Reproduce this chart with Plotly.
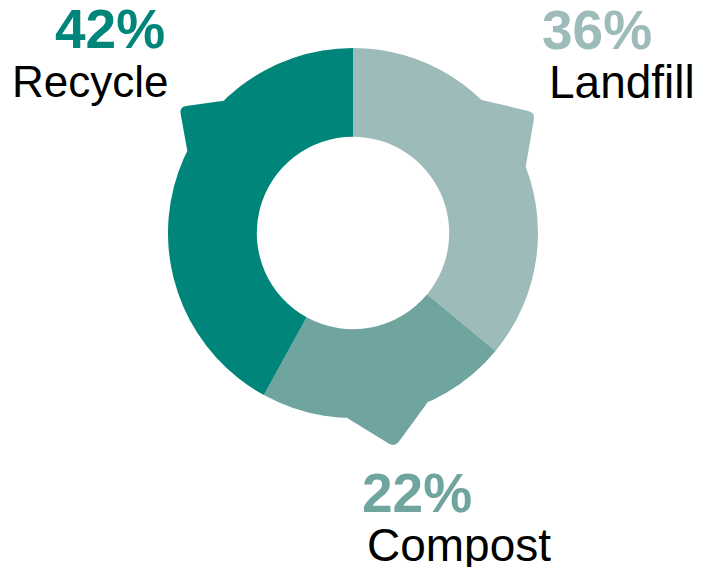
import math
import plotly.graph_objects as go

# ---- data ----
categories = ["Landfill", "Compost", "Recycle"]
values = [36, 22, 42]
colors = ["#9DBBB9", "#70A49F", "#00857A"]
pct_labels = ["36%", "22%", "42%"]

# ---- geometry / style ----
OFF = 8  # page body margin of the html page
W, H = 709 - OFF, 567 - OFF
CX, CY, R = 353 - OFF, 233 - OFF, 185
HOLE = 0.52
# callout tab per category: (center angle clockwise from 12 o'clock, half width deg, tip radius ratio)
tab_style = {"Landfill": (56.5, 12.5, 1.18),
             "Compost": (169.0, 12.8, 1.18),
             "Recycle": (-54.0, 9.6, 1.16)}
# label placement (page pixel anchors): pct (x, ycenter, xanchor), name (x, ycenter, xanchor, size)
label_pos = {"Recycle": ((167, 29, "right"), (171, 82, "right", 44)),
             "Landfill": ((540, 30, "left"), (547, 82, "left", 46)),
             "Compost": ((360, 493, "left"), (365, 545, "left", 46))}


def px(x, y):
    return x / W, 1 - y / H


def polar(ang, r):
    a = math.radians(ang)
    return CX + r * math.sin(a), CY - r * math.cos(a)


fig = go.Figure()
fig.add_trace(go.Pie(
    labels=categories, values=values, sort=False, direction="clockwise",
    rotation=0, hole=HOLE, textinfo="none", hoverinfo="label+percent",
    marker=dict(colors=colors, line=dict(width=0)),
    domain=dict(x=[(CX - R) / W, (CX + R) / W], y=[1 - (CY + R) / H, 1 - (CY - R) / H]),
    showlegend=False,
))


def toward(p, q, d):
    dx, dy = q[0] - p[0], q[1] - p[1]
    L = math.hypot(dx, dy)
    return p[0] + dx * d / L, p[1] + dy * d / L


shapes = []
for cat, col in zip(categories, colors):
    ang, half, ratio = tab_style[cat]
    b1 = polar(ang - half, R)
    b2 = polar(ang + half, R)
    t = polar(ang, R * ratio)
    inner = polar(ang, R * 0.9)
    k = 7.0
    p1 = toward(t, b1, k)
    p2 = toward(t, b2, k)
    pts = [px(*b1), px(*p1), px(*t), px(*p2), px(*b2), px(*inner)]
    path = (f"M {pts[0][0]:.5f},{pts[0][1]:.5f} L {pts[1][0]:.5f},{pts[1][1]:.5f} "
            f"Q {pts[2][0]:.5f},{pts[2][1]:.5f} {pts[3][0]:.5f},{pts[3][1]:.5f} "
            f"L {pts[4][0]:.5f},{pts[4][1]:.5f} L {pts[5][0]:.5f},{pts[5][1]:.5f} Z")
    shapes.append(dict(type="path", xref="paper", yref="paper", path=path,
                       fillcolor=col, line=dict(width=0), layer="above"))

annotations = []
for cat, col, pct in zip(categories, colors, pct_labels):
    (x1, y1, a1), (x2, y2, a2, s2) = label_pos[cat]
    annotations.append(dict(
        text=pct, x=(x1 - OFF) / W, y=1 - (y1 - OFF) / H, xref="paper", yref="paper",
        xanchor=a1, yanchor="middle", showarrow=False,
        font=dict(family="Liberation Sans", size=55, weight="bold", color=col)))
    annotations.append(dict(
        text=cat, x=(x2 - OFF) / W, y=1 - (y2 - OFF) / H, xref="paper", yref="paper",
        xanchor=a2, yanchor="middle", showarrow=False,
        font=dict(family="Liberation Sans", size=s2, color="#000000")))

fig.update_layout(
    width=W, height=H, margin=dict(l=0, r=0, t=0, b=0),
    paper_bgcolor="white", plot_bgcolor="white",
    shapes=shapes, annotations=annotations,
)

fig.write_html("out.html")
